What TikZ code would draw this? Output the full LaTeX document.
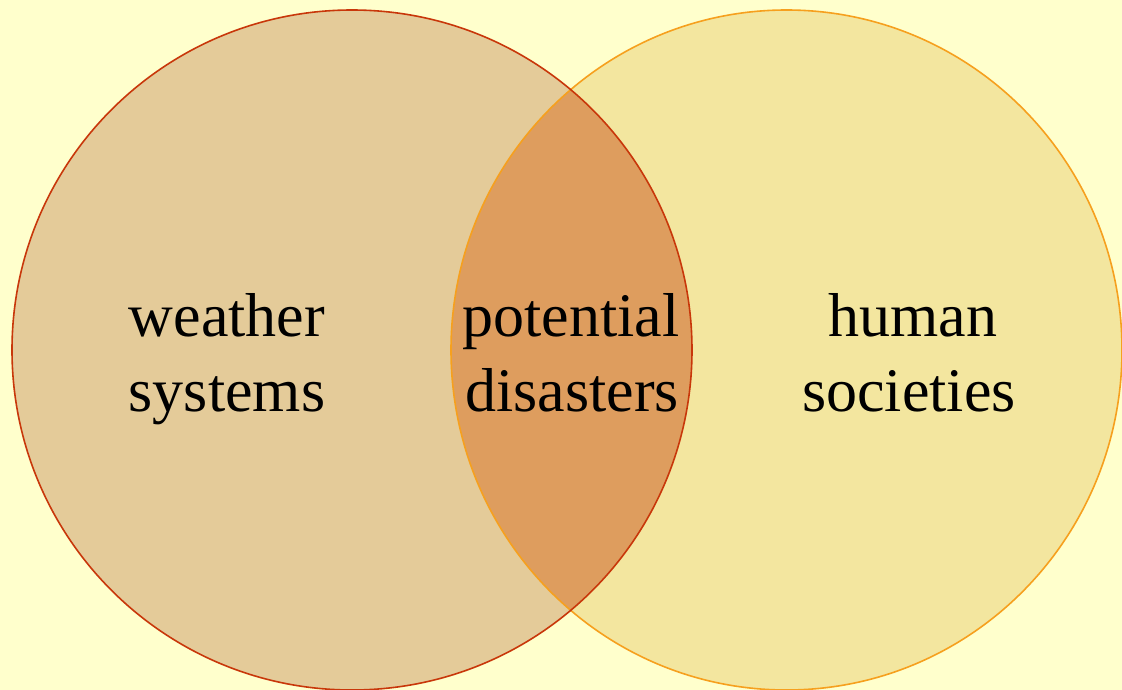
\documentclass[tikz,border=0pt]{standalone}
\usepackage{fontspec}
\setmainfont{Liberation Serif}
\definecolor{bgyellow}{RGB}{255,255,204}
\definecolor{weatherfill}{RGB}{228,203,153}
\definecolor{societyfill}{RGB}{243,230,159}
\definecolor{overlapfill}{RGB}{222,157,94}
\definecolor{weatherline}{RGB}{200,55,10}
\definecolor{societyline}{RGB}{246,160,30}
\tikzset{
  setlabel/.style={anchor=base, inner sep=0pt, font=\fontsize{62}{75}\selectfont, text=black},
  setedge/.style={line width=1.6pt},
}
\begin{document}
\begin{tikzpicture}[x=1pt,y=-1pt]
  % page area and background
  \fill[bgyellow] (0,0) rectangle (1122,690);
  \useasboundingbox (0,0) rectangle (1122,690);

  % the two sets
  \fill[weatherfill] (352,350) circle [radius=340];
  \fill[societyfill] (786.5,350) ellipse [x radius=335.5, y radius=340];

  % their intersection
  \begin{scope}
    \clip (352,350) circle [radius=340];
    \fill[overlapfill] (786.5,350) ellipse [x radius=335.5, y radius=340];
  \end{scope}

  % outlines
  \draw[setedge, societyline] (786.5,350) ellipse [x radius=335.5, y radius=340];
  \draw[setedge, weatherline] (352,350) circle [radius=340];

  % labels
  \node[setlabel] (weatherA) at (227,336) {weather};
  \node[setlabel] (weatherB) at (227,411) {systems};
  \node[setlabel] (disasterA) at (571,336) {potential};
  \node[setlabel] (disasterB) at (572,411) {disasters};
  \node[setlabel] (humanA) at (913,336) {human};
  \node[setlabel] (humanB) at (909,411) {societies};
\end{tikzpicture}
\end{document}
